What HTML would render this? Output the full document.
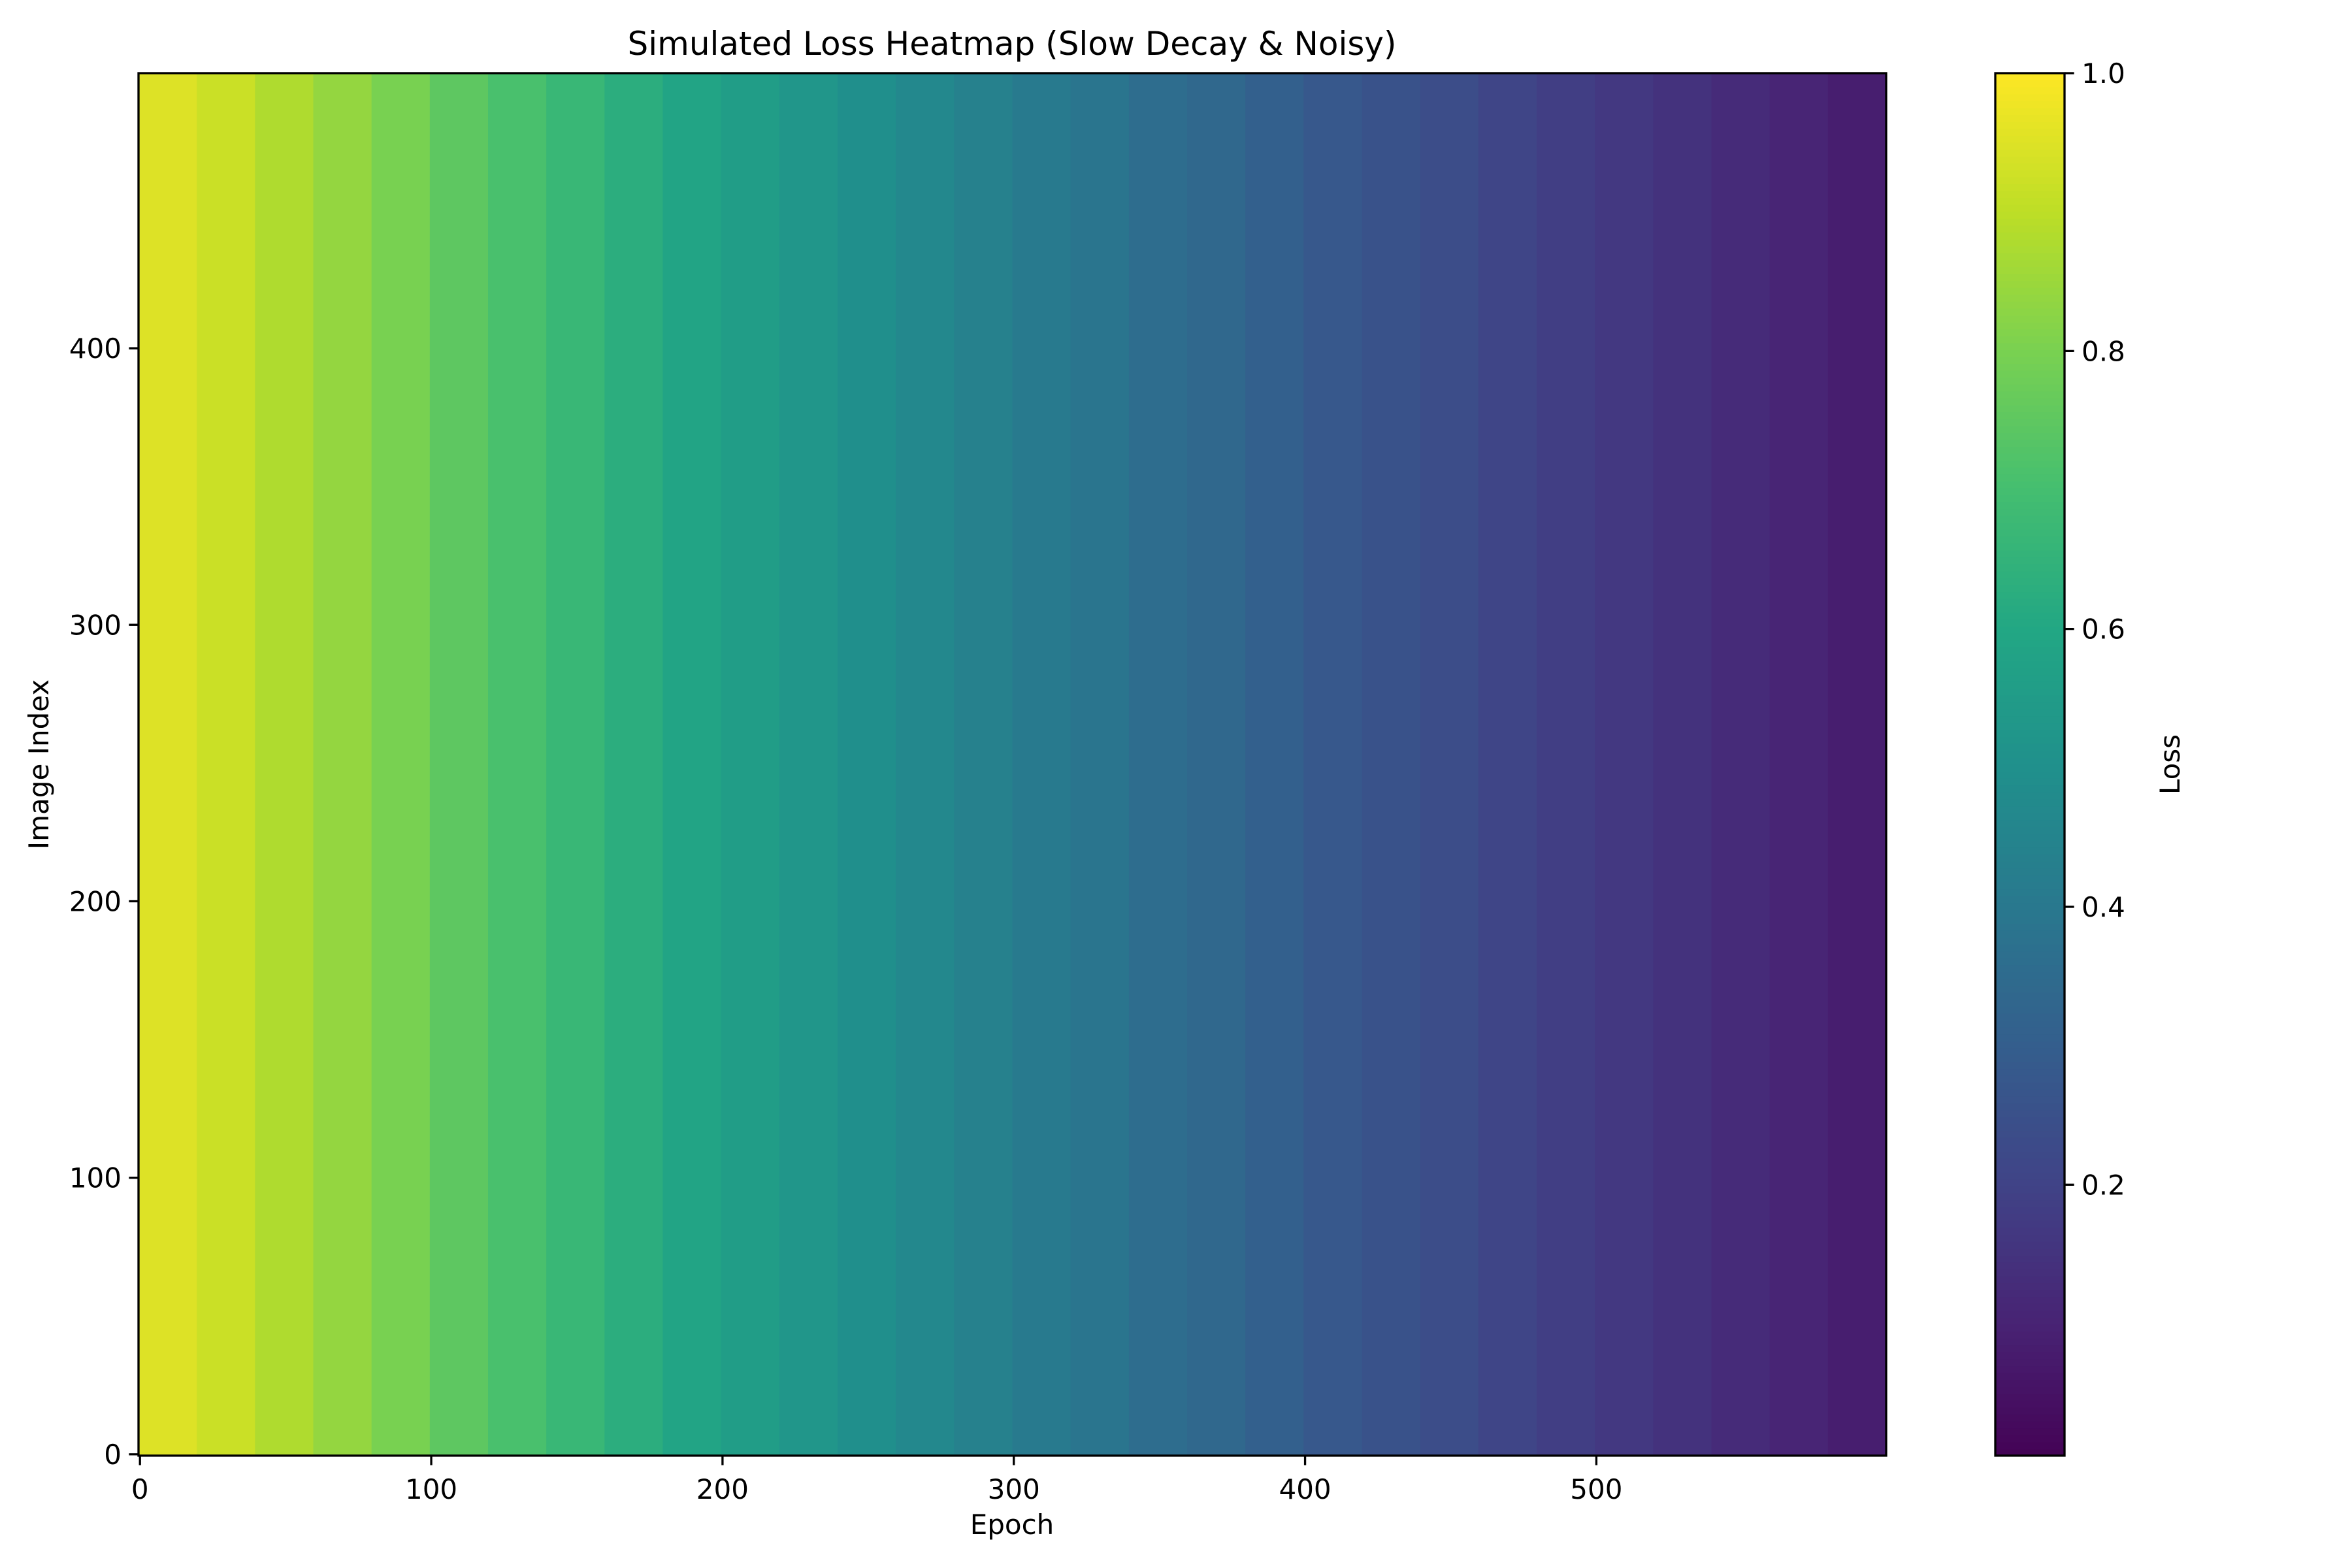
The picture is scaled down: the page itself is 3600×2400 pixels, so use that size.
<!DOCTYPE html>
<html><head><meta charset="utf-8">
<style>
html,body{margin:0;padding:0;background:#fff;}
svg{display:block;font-family:"DejaVu Sans","Liberation Sans",sans-serif;}
</style></head>
<body>
<svg id="chart" width="3600" height="2400" viewBox="0 0 3600 2400" xmlns="http://www.w3.org/2000/svg">
<rect width="3600" height="2400" fill="#fff"/>
<text x="1549" y="84" font-size="50" text-anchor="middle">Simulated Loss Heatmap (Slow Decay &amp; Noisy)</text>
<g id="cells"></g>
<g id="cbar"></g>
<g id="axes"></g>
<text x="1549" y="2348" font-size="42" text-anchor="middle">Epoch</text>
<text x="74" y="1170" font-size="42" text-anchor="middle" transform="rotate(-90 74 1170)">Image Index</text>
<text x="3336" y="1170" font-size="42" text-anchor="middle" transform="rotate(-90 3336 1170)">Loss</text>
</svg>
<script>
// data
const epochBinStarts = [0,20,40,60,80,100,120,140,160,180,200,220,240,260,280,300,320,340,360,380,400,420,440,460,480,500,520,540,560,580];
const meanLoss = [0.95,0.92,0.88,0.84,0.80,0.75,0.71,0.67,0.63,0.59,0.56,0.53,0.50,0.47,0.44,0.41,0.39,0.36,0.34,0.31,0.28,0.26,0.24,0.21,0.19,0.17,0.15,0.13,0.11,0.09];
const xTicks = [0,100,200,300,400,500];
const yTicks = [0,100,200,300,400];
const cbTicks = [0.2,0.4,0.6,0.8,1.0];
const cbTickLabels = ["0.2","0.4","0.6","0.8","1.0"];
const binWidth = 20;

const L=212,R=2887,T=112,B=2228;
const CBL=3054,CBR=3160;
const vmin=0.005,vmax=1.0;
const xS=v=>L+(v+0.5)/600*(R-L);
const yS=v=>B-(v+0.5)/500*(B-T);
const cS=v=>B-(v-vmin)/(vmax-vmin)*(B-T);

const vir=[[68,1,84],[72,35,116],[64,67,135],[52,94,141],[41,120,142],[32,144,140],[34,167,132],[68,190,112],[121,209,81],[189,222,38],[253,231,37]];
function viridis(t){t=Math.max(0,Math.min(1,t));const p=t*(vir.length-1);const i=Math.min(vir.length-2,Math.floor(p));const f=p-i;
const c=vir[i].map((a,k)=>Math.round(a+(vir[i+1][k]-a)*f));return `rgb(${c[0]},${c[1]},${c[2]})`;}
const NS="http://www.w3.org/2000/svg";
function mk(tag,attrs,parent){const e=document.createElementNS(NS,tag);for(const k in attrs)e.setAttribute(k,attrs[k]);parent.appendChild(e);return e;}

const cells=document.getElementById('cells');
epochBinStarts.forEach((s,i)=>{
  const x0=xS(s-0.5), x1=xS(s+binWidth-0.5);
  const r=mk('rect',{x:x0,y:T,width:x1-x0+0.6,height:B-T,fill:viridis((meanLoss[i]-vmin)/(vmax-vmin))},cells);
  
  
});

const cb=document.getElementById('cbar');
for(let i=0;i<200;i++){
  const v0=vmin+(vmax-vmin)*i/200, v1=vmin+(vmax-vmin)*(i+1)/200;
  const r=mk('rect',{x:CBL,y:cS(v1),width:CBR-CBL,height:cS(v0)-cS(v1)+0.6,fill:viridis((v0+v1)/2)},cb);
  
  
}

const ax=document.getElementById('axes');
const fr=mk('rect',{x:L,y:T,width:R-L,height:B-T,fill:'none',stroke:'#000','stroke-width':3.3},ax);


const cf=mk('rect',{x:CBL,y:T,width:CBR-CBL,height:B-T,fill:'none',stroke:'#000','stroke-width':3.3},ax);



xTicks.forEach(v=>{const x=xS(v);
  const l=mk('line',{x1:x,x2:x,y1:B,y2:B+14.6,stroke:'#000','stroke-width':3.3},ax);
  
  
  const t=mk('text',{x:x,y:B+66,'font-size':42,'text-anchor':'middle'},ax);t.textContent=v;
  
  
});
yTicks.forEach(v=>{const y=yS(v);
  const l=mk('line',{x1:L-14.6,x2:L,y1:y,y2:y,stroke:'#000','stroke-width':3.3},ax);
  
  
  const t=mk('text',{x:L-26,y:y+15,'font-size':42,'text-anchor':'end'},ax);t.textContent=v;
  
  
});
cbTicks.forEach((v,i)=>{const y=cS(v);
  const l=mk('line',{x1:CBR,x2:CBR+14.6,y1:y,y2:y,stroke:'#000','stroke-width':3.3},ax);
  
  
  const t=mk('text',{x:CBR+26,y:y+15,'font-size':42},ax);t.textContent=cbTickLabels[i];
  
  
});
</script>
</body></html>
